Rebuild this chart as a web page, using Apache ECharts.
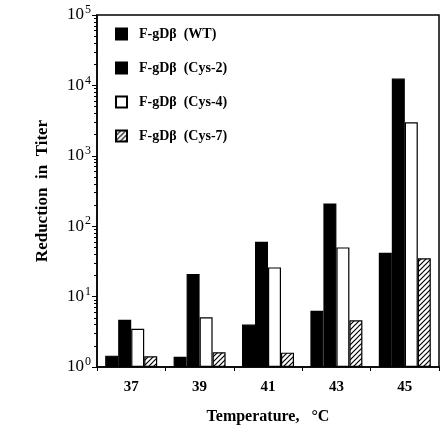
<!DOCTYPE html>
<html>
<head>
<meta charset="utf-8">
<script src="https://cdn.jsdelivr.net/npm/echarts@6/dist/echarts.min.js"></script>
<style>
html, body { margin: 0; padding: 0; background: #fff; }
#main { width: 444px; height: 446px; }
</style>
</head>
<body>
<div id="main"></div>
<script>
var temps = ['37', '39', '41', '43', '45'];
var wt   = [1.45, 1.4, 4.0, 6.3, 42];
var cys2 = [4.7, 21, 60, 210, 12500];
var cys4 = [3.5, 5.1, 26, 50, 3000];
var cys7 = [1.42, 1.62, 1.6, 4.6, 35];
var names = ['F-gDβ  (WT)', 'F-gDβ  (Cys-2)', 'F-gDβ  (Cys-4)', 'F-gDβ  (Cys-7)'];

var serif = '"Liberation Serif", "DejaVu Serif", serif';

// diagonal hatch for Cys-7
function hatch() {
	var c = document.createElement('canvas');
	c.width = 5; c.height = 5;
	var g = c.getContext('2d');
	g.fillStyle = '#fff';
	g.fillRect(0, 0, 5, 5);
	g.strokeStyle = '#000';
	g.lineWidth = 1.2;
	g.beginPath();
	g.moveTo(-1, 6); g.lineTo(6, -1);
	g.moveTo(-1, 1); g.lineTo(1, -1);
	g.moveTo(4, 6); g.lineTo(6, 4);
	g.stroke();
	return c;
}

var chart = echarts.init(document.getElementById('main'));

function bar(name, data, fill) {
	return {
		name: name,
		type: 'bar',
		data: data,
		barWidth: 13,
		barGap: '0%',
		itemStyle: { color: fill, borderColor: '#000', borderWidth: 1.2 }
	};
}

var option = {
	animation: false,
	grid: {
		left: 97, right: 5, top: 15, bottom: 79,
		show: true, borderColor: '#000', borderWidth: 1.5, backgroundColor: 'transparent'
	},
	legend: {
		orient: 'vertical',
		left: 110, top: 22,
		icon: 'rect',
		itemWidth: 11, itemHeight: 11,
		itemGap: 20,
		data: names,
		formatter: function (n) { return '  ' + n; },
		textStyle: { fontFamily: serif, fontWeight: 'bold', fontSize: 14, color: '#000' }
	},
	xAxis: {
		type: 'category',
		data: temps,
		name: 'Temperature,   °C',
		nameLocation: 'middle',
		nameGap: 42,
		nameTextStyle: { fontFamily: serif, fontWeight: 'bold', fontSize: 16, color: '#000' },
		axisLine: { lineStyle: { color: '#000', width: 1.5 } },
		axisTick: { show: true, length: 4, lineStyle: { color: '#000' } },
		axisLabel: { fontFamily: serif, fontWeight: 'bold', fontSize: 15, color: '#000', margin: 13 }
	},
	yAxis: {
		type: 'log',
		logBase: 10,
		min: 1,
		max: 100000,
		name: 'Reduction  in  Titer',
		nameLocation: 'middle',
		nameGap: 46,
		nameTextStyle: { fontFamily: serif, fontWeight: 'bold', fontSize: 17, color: '#000' },
		axisLine: { show: true, lineStyle: { color: '#000', width: 1.5 } },
		axisTick: { show: true, length: 5, lineStyle: { color: '#000' } },
		minorTick: { show: true, splitNumber: 9, length: 3, lineStyle: { color: '#000' } },
		splitLine: { show: false },
		axisLabel: {
			margin: 6,
			fontSize: 17,
			fontFamily: serif,
			color: '#000',
			formatter: function (v) {
				return '{b|10}{s|' + Math.round(Math.log10(v)) + '}';
			},
			rich: {
				b: { fontFamily: serif, fontSize: 17, color: '#000' },
				s: { fontFamily: serif, fontSize: 12, color: '#000', padding: [0, 0, 10, 1] }
			}
		}
	},
	series: [
		bar(names[0], wt, '#000'),
		bar(names[1], cys2, '#000'),
		bar(names[2], cys4, '#fff'),
		bar(names[3], cys7, { image: hatch(), repeat: 'repeat' })
	]
};

chart.setOption(option);
</script>
</body>
</html>
